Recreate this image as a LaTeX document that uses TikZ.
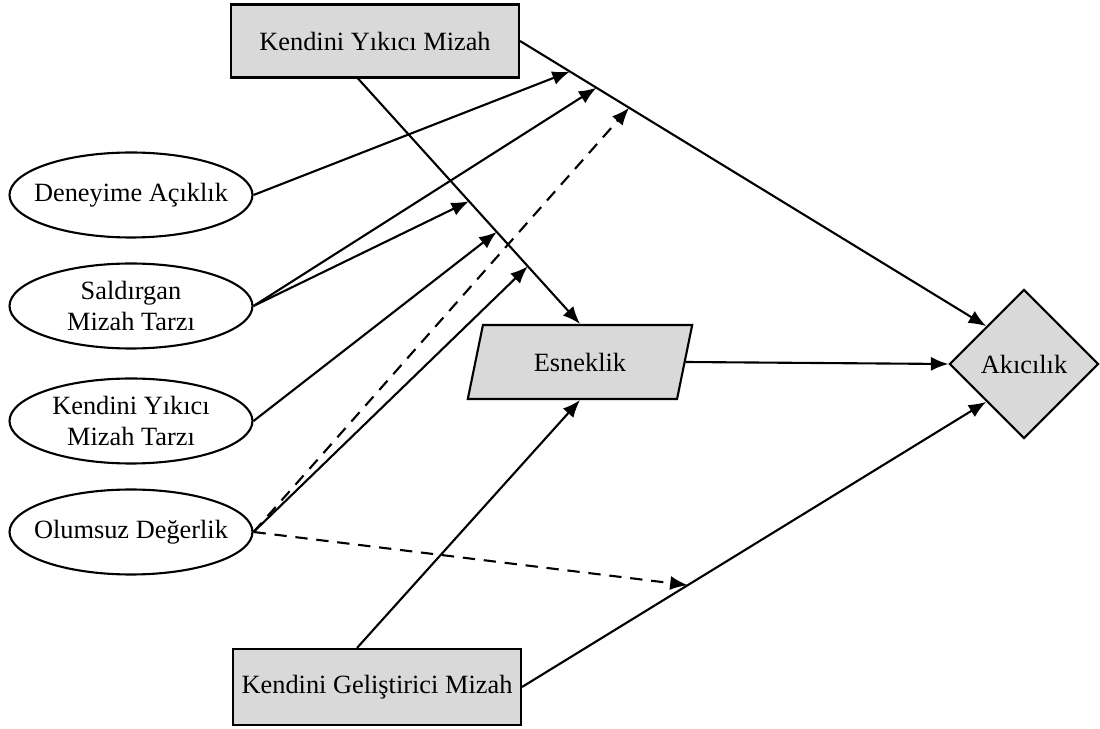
\documentclass[tikz,border=0pt]{standalone}
\usepackage{fontspec}
\setmainfont{Liberation Serif}
\usetikzlibrary{shapes.geometric,arrows.meta}

\begin{document}
\begin{tikzpicture}[x=0.02cm,y=-0.02cm,
 font=\fontsize{15}{18}\selectfont,
 box/.style={draw,line width=1.2pt,fill=black!15,minimum width=5.76cm,minimum height=1.46cm},
 ell/.style={draw,ellipse,line width=1.2pt,minimum width=4.86cm,minimum height=1.7cm,
 inner sep=0pt,inner xsep=-7pt,align=center},
 arr/.style={-{Latex[length=10pt,width=8pt]},line width=1.2pt},
 dasharr/.style={arr,dash pattern=on 7pt off 5pt}]
 \useasboundingbox (0,0) rectangle (1100,729);
 \node[box] (kym) at (375,41) {Kendini Yıkıcı Mizah};
 \node[box,minimum height=1.52cm] (kgm) at (377,687) {Kendini Geliştirici Mizah};
 \node[ell] (den) at (131,195) {Deneyime Açıklık};
 \node[ell] (sal) at (131,306) {Saldırgan\\Mizah Tarzı};
 \node[ell] (kyt) at (131,421) {Kendini Yıkıcı\\Mizah Tarzı};
 \node[ell] (olu) at (131,532) {Olumsuz Değerlik};
 \node[draw,trapezium,trapezium left angle=75,trapezium right angle=105,trapezium stretches=true,
 fill=black!15,line width=1.2pt,minimum width=4.5cm,minimum height=1.48cm] (esn) at (580,362) {Esneklik};
 \node[draw,diamond,shape aspect=1,fill=black!15,line width=1.2pt,
 minimum size=2.98cm,inner sep=0pt] (akc) at (1024,364) {Akıcılık};
 \draw[arr] (kym.east) -- (akc.north west)
 coordinate[pos=0.107] (p1) coordinate[pos=0.164] (p2) coordinate[pos=0.234] (p3);
 \draw[arr] ([xshift=-0.34cm]kym.south) -- (esn.north)
 coordinate[pos=0.5] (q1) coordinate[pos=0.625] (q2) coordinate[pos=0.765] (q3);
 \draw[arr] ([xshift=-0.4cm]kgm.north) -- (esn.south);
 \draw[arr] (kgm.east) -- (akc.south west) coordinate[pos=0.357] (r1);
 \draw[arr] (esn.east) -- (akc.west);
 \draw[arr] (den.east) -- (p1);
 \draw[arr] (sal.east) -- (p2);
 \draw[arr] (sal.east) -- (q1);
 \draw[arr] (kyt.east) -- (q2);
 \draw[dasharr] (olu.east) -- (p3);
 \draw[arr] (olu.east) -- (q3);
 \draw[dasharr] (olu.east) -- (r1);
\end{tikzpicture}
\end{document}
